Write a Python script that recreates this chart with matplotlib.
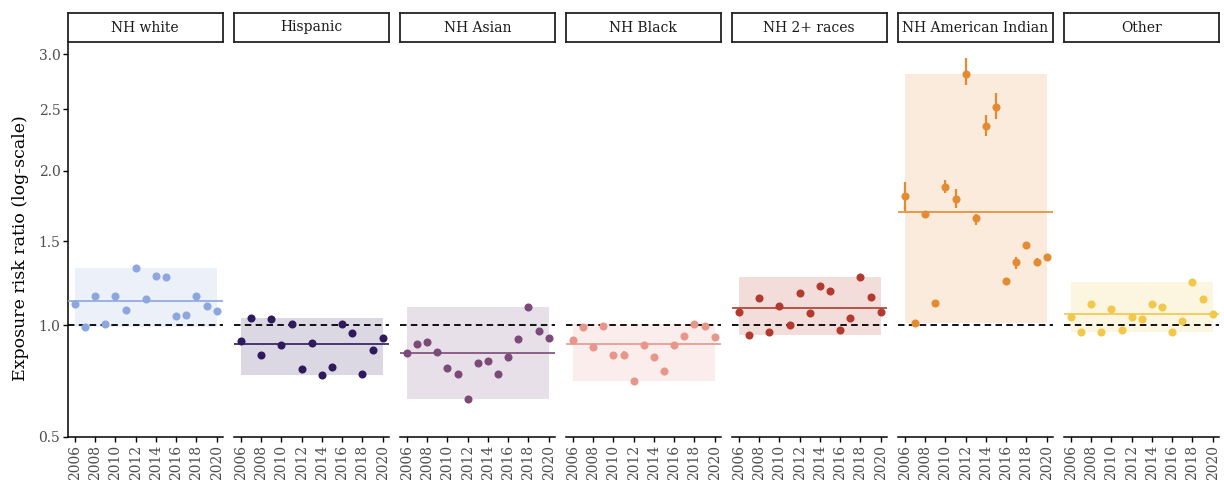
import matplotlib
matplotlib.use("Agg")
import matplotlib.pyplot as plt
import numpy as np

# --- Data --------------------------------------------------------------------
years = list(range(2006, 2021))
year_ticks = list(range(2006, 2021, 2))
groups = ["NH white", "Hispanic", "NH Asian", "NH Black",
          "NH 2+ races", "NH American Indian", "Other"]
colors = ["#8DA6DD", "#2E1A5C", "#7B4A79", "#E8968B",
          "#B23A2F", "#E58A30", "#F2C84B"]

white    = [1.116, 0.990, 1.165, 1.010, 1.163, 1.084, 1.328, 1.147,
            1.282, 1.275, 1.053, 1.054, 1.165, 1.106, 1.080]
hispanic = [0.920, 1.042, 0.849, 1.033, 0.901, 1.006, 0.785, 0.908,
            0.757, 0.794, 1.007, 0.961, 0.760, 0.875, 0.933]
asian    = [0.858, 0.906, 0.916, 0.866, 0.788, 0.760, 0.649, 0.812,
            0.823, 0.760, 0.842, 0.931, 1.099, 0.973, 0.933]
black    = [0.923, 0.990, 0.891, 0.996, 0.850, 0.850, 0.730, 0.898,
            0.842, 0.774, 0.899, 0.947, 1.006, 0.996, 0.938]
multi    = [1.071, 0.949, 1.153, 0.964, 1.108, 1.004, 1.180, 1.066,
            1.219, 1.190, 0.975, 1.040, 1.273, 1.157, 1.071]
amind    = [1.815, 1.012, 1.685, 1.123, 1.881, 1.789, 2.815, 1.655,
            2.362, 2.521, 1.252, 1.367, 1.474, 1.367, 1.398]
other    = [1.044, 0.964, 1.116, 0.964, 1.088, 0.976, 1.047, 1.033,
            1.116, 1.102, 0.967, 1.024, 1.243, 1.146, 1.060]

# confidence bounds (only visible for a few points)
amind_lo = [1.708, 1.000, 1.670, 1.110, 1.837, 1.729, 2.715, 1.609,
            2.276, 2.415, 1.240, 1.325, 1.460, 1.345, 1.385]
amind_hi = [1.918, 1.025, 1.700, 1.135, 1.931, 1.866, 2.961, 1.685,
            2.452, 2.641, 1.265, 1.400, 1.490, 1.390, 1.410]
black_lo = [0.923, 0.990, 0.891, 0.996, 0.850, 0.835, 0.730, 0.898,
            0.842, 0.774, 0.899, 0.947, 1.006, 0.996, 0.938]
black_hi = [0.923, 0.990, 0.891, 0.996, 0.850, 0.868, 0.730, 0.898,
            0.842, 0.774, 0.899, 0.947, 1.006, 0.996, 0.938]

series = [white, hispanic, asian, black, multi, amind, other]
bounds = [None, None, None, (black_lo, black_hi), None, (amind_lo, amind_hi), None]

y_ticks = [0.5, 1.0, 1.5, 2.0, 2.5, 3.0]

# --- Style --------------------------------------------------------------------
plt.rcParams["font.family"] = "DejaVu Serif"
TICK_COLOR = "#4d4d4d"
POW = 0.47   # the y-axis spacing of the reference fits a power transform


def fwd(v):
    return np.power(np.clip(v, 1e-6, None), POW)


def inv(t):
    return np.power(np.clip(t, 1e-6, None), 1.0 / POW)


W, H = 1224, 487
fig = plt.figure(figsize=(W / 100, H / 100), dpi=100)

# --- Panels -------------------------------------------------------------------
for i, (name, col, vals, bnd) in enumerate(zip(groups, colors, series, bounds)):
    left = (68 + 166 * i) / W
    width = 154.5 / W
    ax = fig.add_axes([left, 1 - 437 / H, width, 395 / H])
    ax.set_yscale("function", functions=(fwd, inv))
    ax.set_ylim(0.5, 3.116)
    ax.set_xlim(2005.31, 2020.57)

    # min-max band, reference line, mean line
    ax.fill_between([2006, 2020], min(vals), max(vals), color=col,
                    alpha=0.17, lw=0, zorder=1)
    ax.axhline(1.0, color="black", lw=1.3, ls=(0, (3.6, 2.4)), zorder=2)
    ax.axhline(np.mean(vals), color=col, lw=1.2, zorder=3)

    if bnd is not None:
        lo, hi = bnd
        ax.vlines(years, lo, hi, color=col, lw=1.6, zorder=4)
    ax.plot(years, vals, "o", ms=5.8, color=col, mec="none", zorder=5)

    for s in ["top", "right"]:
        ax.spines[s].set_visible(False)
    ax.spines["bottom"].set_linewidth(1.1)
    ax.spines["left"].set_linewidth(1.1)

    ax.set_xticks(year_ticks)
    ax.set_xticklabels([str(y) for y in year_ticks], rotation=90,
                       fontsize=10, color=TICK_COLOR)
    ax.tick_params(axis="x", length=3.5, width=1.0, pad=2)

    if i == 0:
        ax.set_yticks(y_ticks)
        ax.set_yticklabels([f"{t:.1f}" for t in y_ticks], fontsize=10,
                           color=TICK_COLOR)
        ax.yaxis.set_minor_locator(matplotlib.ticker.NullLocator())
        ax.tick_params(axis="y", length=3.5, width=1.0, pad=2)
    else:
        ax.spines["left"].set_visible(False)
        ax.set_yticks([])
        ax.yaxis.set_minor_locator(matplotlib.ticker.NullLocator())

    # facet strip
    sx = fig.add_axes([left, 1 - 42 / H, width, 29 / H])
    sx.set_xticks([])
    sx.set_yticks([])
    for s in sx.spines.values():
        s.set_linewidth(1.3)
        s.set_color("#222222")
    sx.text(0.5, 0.5, name, ha="center", va="center", fontsize=10,
            color="#1a1a1a", transform=sx.transAxes)

fig.text(0.0165, 0.49, "Exposure risk ratio (log-scale)", rotation=90,
         ha="center", va="center", fontsize=12.5)

fig.savefig("out.png", dpi=100)
